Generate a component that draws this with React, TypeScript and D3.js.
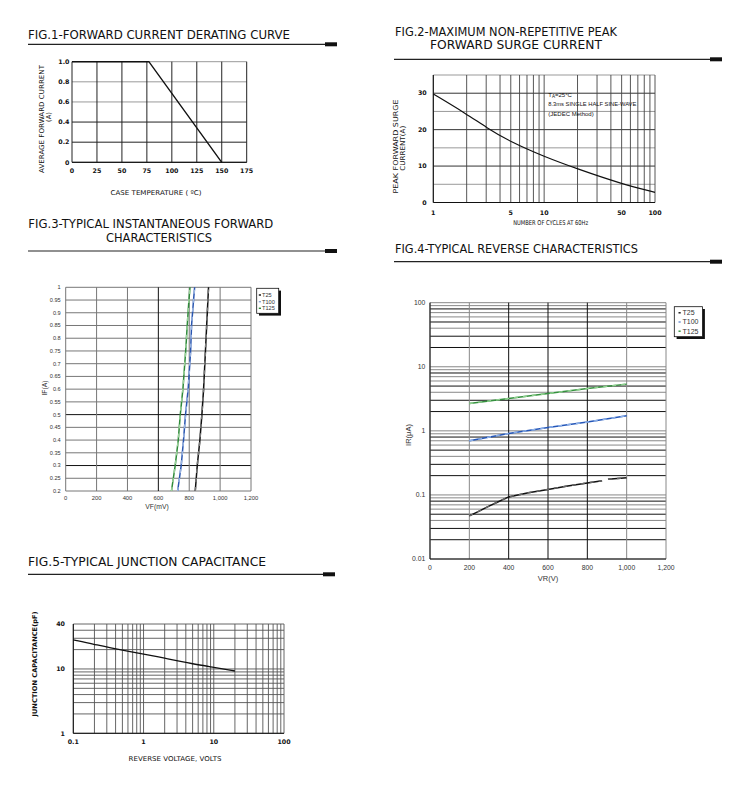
import React from 'react';
import * as d3 from 'd3';

// ---------- titles ----------
const fig1Title = ['FIG.1-FORWARD CURRENT DERATING CURVE'];
const fig2Title = ['FIG.2-MAXIMUM NON-REPETITIVE PEAK', 'FORWARD SURGE CURRENT'];
const fig3Title = ['FIG.3-TYPICAL INSTANTANEOUS FORWARD', 'CHARACTERISTICS'];
const fig4Title = ['FIG.4-TYPICAL REVERSE CHARACTERISTICS'];
const fig5Title = ['FIG.5-TYPICAL JUNCTION CAPACITANCE'];

// ---------- fig 1 ----------
const fig1Temps = [0, 77, 150];
const fig1Current = [1.0, 1.0, 0];
const fig1XTicks = [0, 25, 50, 75, 100, 125, 150, 175];
const fig1YTicks = [0, 0.2, 0.4, 0.6, 0.8, 1.0];
const fig1YLabels = ['0', '0.2', '0.4', '0.6', '0.8', '1.0'];

// ---------- fig 2 ----------
const fig2Cycles = [1, 2, 3, 5, 10, 20, 50, 100];
const fig2Surge = [29.8, 24.3, 20.6, 16.6, 12.6, 9.2, 5.1, 2.8];
const fig2XTicks = [1, 5, 10, 50, 100];
const fig2YTicks = [0, 10, 20, 30];
const fig2YGrid = [5, 10, 15, 20, 25, 30, 35];
const fig2Notes = ['=25°C', '8.3ms SINGLE HALF SINE-WAVE', '(JEDEC Method)'];

// ---------- fig 3 ----------
const fig3IF = [0.2, 0.3, 0.4, 0.5, 0.6, 0.75, 0.85, 0.95, 1.0];
const fig3T25 = [839, 852, 869, 882, 893, 905, 913, 921, 925];
const fig3T100 = [725, 748, 763, 776, 793, 809, 815, 828, 835];
const fig3T125 = [685, 709, 729, 742, 759, 777, 787, 798, 805];
const fig3XTicks = [0, 200, 400, 600, 800, 1000, 1200];
const fig3YTicks = [0.2, 0.25, 0.3, 0.35, 0.4, 0.45, 0.5, 0.55, 0.6, 0.65, 0.7, 0.75, 0.8, 0.85, 0.9, 0.95, 1];
const fig3YLabels = ['0.2', '0.25', '0.3', '0.35', '0.4', '0.45', '0.5', '0.55', '0.6', '0.65', '0.7', '0.75', '0.8', '0.85', '0.9', '0.95', '1'];
const legendNames = ['T25', 'T100', 'T125'];

// ---------- fig 4 ----------
const fig4VR25 = [200, 250, 300, 350, 400, 500, 600, 700, 800, 875, 890, 905, 1000];
const fig4IR25 = [0.047, 0.056, 0.067, 0.079, 0.093, 0.108, 0.122, 0.138, 0.154, 0.167, NaN, 0.175, 0.186];
const fig4VR = [200, 400, 600, 800, 1000];
const fig4IR100 = [0.70, 0.91, 1.13, 1.37, 1.72];
const fig4IR125 = [2.67, 3.2, 3.83, 4.57, 5.36];
const fig4XTicks = [0, 200, 400, 600, 800, 1000, 1200];
const fig4YTicks = [0.01, 0.1, 1, 10, 100];
const fig4YLabels = ['0.01', '0.1', '1', '10', '100'];

// ---------- fig 5 ----------
const fig5Volt = [0.1, 0.2, 0.3, 1, 2, 5, 10, 20];
const fig5Cap = [28.3, 24.2, 21.7, 17.1, 14.7, 12.0, 10.6, 9.3];
const fig5XTicks = [0.1, 1, 10, 100];
const fig5XLabels = ['0.1', '1', '10', '100'];
const fig5YTicks = [1, 10, 50];
const fig5YLabels = ['1', '10', '40'];

const F1 = "'DejaVu Sans', sans-serif";
const F2 = "'Liberation Sans', Arial, sans-serif";

function logGrid(lo: number, hi: number): number[] {
  const out: number[] = [];
  const d0 = Math.floor(Math.log10(lo));
  const d1 = Math.ceil(Math.log10(hi));
  for (let d = d0; d <= d1; d++) {
    for (let k = 1; k <= 9; k++) {
      const v = +(k * Math.pow(10, d)).toPrecision(3);
      if (v >= lo * 0.999 && v <= hi * 1.001) out.push(v);
    }
  }
  return out;
}

type TitleLine = { text: string; x: number; y: number; len: number };

function Header({ lines, ruleY, x1, x2 }: { lines: TitleLine[]; ruleY: number; x1: number; x2: number }) {
  return (
    <g>
      {lines.map((l, i) => (
        <text key={i} x={l.x} y={l.y} fontFamily={F1} fontSize={11.6} fill="#111"
          textLength={l.len} lengthAdjust="spacingAndGlyphs">{l.text}</text>
      ))}
      <line x1={x1} x2={x2} y1={ruleY} y2={ruleY} stroke="#222" strokeWidth={1.2} />
      <rect x={x2 - 12} y={ruleY - 2} width={12} height={4} fill="#111" />
    </g>
  );
}

function Fig1() {
  const x = d3.scaleLinear().domain([0, 175]).range([72, 246.7]);
  const y = d3.scaleLinear().domain([0, 1]).range([162.3, 61.7]);
  const pts = fig1Temps.map((t, i) => [x(t), y(fig1Current[i])] as [number, number]);
  const path = d3.line()(pts) || '';
  return (
    <g>
      <Header lines={[{ text: fig1Title[0], x: 28, y: 38.5, len: 262 }]} ruleY={44.3} x1={28} x2={337} />
      {fig1YTicks.map((v) => (
        <line key={'h' + v} x1={x(0)} x2={x(175)} y1={y(v)} y2={y(v)} stroke={v >= 0.6 ? '#999' : '#222'} strokeWidth={1} />
      ))}
      {fig1XTicks.map((v) => (
        <line key={'v' + v} x1={x(v)} x2={x(v)} y1={y(0)} y2={y(1)} stroke="#222" strokeWidth={1} />
      ))}
      <line x1={x(0)} x2={x(175)} y1={y(0)} y2={y(0)} stroke="#111" strokeWidth={1} />
      <path d={path} fill="none" stroke="#111" strokeWidth={1.4} />
      {fig1YTicks.map((v, i) => (
        <text key={'yl' + v} x={69.5} y={y(v)} dy="0.35em" textAnchor="end" fontFamily={F1} fontWeight="bold" fontSize={6.3} fill="#111">{fig1YLabels[i]}</text>
      ))}
      {fig1XTicks.map((v) => (
        <text key={'xl' + v} x={x(v)} y={170.7} dy="0.35em" textAnchor="middle" fontFamily={F1} fontWeight="bold" fontSize={6.3} fill="#111">{v}</text>
      ))}
      <text transform="translate(41.7,119) rotate(-90)" textAnchor="middle" dominantBaseline="central" fontFamily={F1} fontSize={6.8} fill="#111" textLength={108} lengthAdjust="spacingAndGlyphs">AVERAGE FORWARD CURRENT</text>
      <text transform="translate(49.3,117) rotate(-90)" textAnchor="middle" dominantBaseline="central" fontFamily={F1} fontSize={6.8} fill="#111">(A)</text>
      <text x={156} y={192.3} dy="0.35em" textAnchor="middle" fontFamily={F1} fontSize={6.6} fill="#111" textLength={91} lengthAdjust="spacingAndGlyphs">CASE  TEMPERATURE ( ºC)</text>
    </g>
  );
}

function Fig2() {
  const x = d3.scaleLog().domain([1, 100]).range([433.3, 655]);
  const y = d3.scaleLinear().domain([0, 35]).range([202.5, 75]);
  const vgrid = logGrid(1, 100);
  const line = d3.line<number>().x((d, i) => x(fig2Cycles[i])).y((d) => y(d)).curve(d3.curveBasis);
  return (
    <g>
      <Header lines={[{ text: fig2Title[0], x: 395, y: 35.7, len: 222 }, { text: fig2Title[1], x: 430, y: 49, len: 172 }]} ruleY={59.3} x1={394} x2={722} />
      {fig2YGrid.map((v) => (
        <line key={'h' + v} x1={x(1)} x2={x(100)} y1={y(v)} y2={y(v)} stroke={v % 10 === 0 ? '#333' : '#999'} strokeWidth={1} />
      ))}
      {vgrid.map((v) => (
        <line key={'v' + v} x1={x(v)} x2={x(v)} y1={y(0)} y2={y(35)} stroke="#444" strokeWidth={0.9} />
      ))}
      <line x1={x(1)} x2={x(100)} y1={y(0)} y2={y(0)} stroke="#111" strokeWidth={1} />
      <line x1={x(1)} x2={x(1)} y1={y(0)} y2={y(35)} stroke="#111" strokeWidth={1} />
      <path d={line(fig2Surge) || ''} fill="none" stroke="#111" strokeWidth={1.2} />
      {fig2YTicks.map((v) => (
        <text key={'yl' + v} x={426.7} y={y(v)} dy="0.35em" textAnchor="end" fontFamily={F1} fontWeight="bold" fontSize={6.3} fill="#111">{v}</text>
      ))}
      {fig2XTicks.map((v) => (
        <text key={'xl' + v} x={x(v)} y={212.7} dy="0.35em" textAnchor="middle" fontFamily={F1} fontWeight="bold" fontSize={6.3} fill="#111">{v}</text>
      ))}
      <text x={548.3} y={95} dy="0.35em" fontFamily={F2} fontSize={6} fill="#111">
        <tspan>T</tspan><tspan fontSize={4.5} dy={1}>A</tspan><tspan dy={-1}>{fig2Notes[0]}</tspan>
      </text>
      <text x={548.3} y={104} dy="0.35em" fontFamily={F2} fontSize={6} fill="#111" textLength={88} lengthAdjust="spacingAndGlyphs">{fig2Notes[1]}</text>
      <text x={548.3} y={114} dy="0.35em" fontFamily={F2} fontSize={6} fill="#111">{fig2Notes[2]}</text>
      <text transform="translate(396,146.5) rotate(-90)" textAnchor="middle" dominantBaseline="central" fontFamily={F1} fontSize={6.8} fill="#111" textLength={94} lengthAdjust="spacingAndGlyphs">PEAK FORWARD SURGE</text>
      <text transform="translate(402.7,148.3) rotate(-90)" textAnchor="middle" dominantBaseline="central" fontFamily={F1} fontSize={6.8} fill="#111" textLength={45} lengthAdjust="spacingAndGlyphs">CURRENT(A)</text>
      <text x={550.7} y={222.7} dy="0.35em" textAnchor="middle" fontFamily={F1} fontSize={6.6} fill="#111" textLength={75} lengthAdjust="spacingAndGlyphs">NUMBER OF CYCLES AT 60Hz</text>
    </g>
  );
}

function DashedSeries({ d, dark, light, width }: { d: string; dark: string; light: string; width: number }) {
  return (
    <g>
      <path d={d} fill="none" stroke={dark} strokeWidth={width} />
      <path d={d} fill="none" stroke={light} strokeWidth={width} strokeDasharray="4,5" />
    </g>
  );
}

function Legend({ x0, y0, w, h, ys, tx, mx, fs, colors }: { x0: number; y0: number; w: number; h: number; ys: number[]; tx: number; mx: number; fs: number; colors: string[] }) {
  return (
    <g>
      <rect x={x0 + 2.3} y={y0 + 2.3} width={w} height={h} fill="#111" />
      <rect x={x0} y={y0} width={w} height={h} fill="#fff" stroke="#111" strokeWidth={0.8} />
      {legendNames.map((n, i) => (
        <g key={n}>
          <rect x={mx} y={ys[i] - 0.7} width={2.2} height={1.4} fill={colors[i]} />
          <text x={tx} y={ys[i]} dy="0.35em" fontFamily={F2} fontSize={fs} fill="#333">{n}</text>
        </g>
      ))}
    </g>
  );
}

function Fig3() {
  const x = d3.scaleLinear().domain([0, 1200]).range([65.7, 251]);
  const y = d3.scaleLinear().domain([0.2, 1]).range([491, 287.3]);
  const mk = (vals: number[]) => d3.line<number>().x((d) => x(d)).y((d, i) => y(fig3IF[i]))(vals) || '';
  return (
    <g>
      <Header lines={[{ text: fig3Title[0], x: 28.3, y: 228.3, len: 245 }, { text: fig3Title[1], x: 106, y: 241.7, len: 106 }]} ruleY={251} x1={28} x2={337} />
      {fig3YTicks.map((v) => (
        <line key={'h' + v} x1={x(0)} x2={x(1200)} y1={y(v)} y2={y(v)} stroke={v === 0.5 || v === 0.3 ? '#111' : '#777'} strokeWidth={1} />
      ))}
      {fig3XTicks.map((v) => (
        <line key={'v' + v} x1={x(v)} x2={x(v)} y1={y(0.2)} y2={y(1)} stroke={v === 600 ? '#111' : '#777'} strokeWidth={1} />
      ))}
      <DashedSeries d={mk(fig3T25)} dark="#111" light="#777" width={1.5} />
      <DashedSeries d={mk(fig3T100)} dark="#2a56b0" light="#9ab4e0" width={1.5} />
      <DashedSeries d={mk(fig3T125)} dark="#2f8a3a" light="#9ad09a" width={1.5} />
      {fig3YTicks.map((v, i) => (
        <text key={'yl' + v} x={60.7} y={y(v)} dy="0.35em" textAnchor="end" fontFamily={F2} fontSize={5.6} fill="#333">{fig3YLabels[i]}</text>
      ))}
      {fig3XTicks.map((v) => (
        <text key={'xl' + v} x={x(v)} y={497.7} dy="0.35em" textAnchor="middle" fontFamily={F2} fontSize={5.8} fill="#333">{d3.format(',')(v)}</text>
      ))}
      <text x={157} y={506.7} dy="0.35em" textAnchor="middle" fontFamily={F2} fontSize={6.8} fill="#333">VF(mV)</text>
      <text transform="translate(44,388) rotate(-90)" textAnchor="middle" dominantBaseline="central" fontFamily={F2} fontSize={6.8} fill="#333">IF(A)</text>
      <Legend x0={256.7} y0={288.3} w={22} h={25} ys={[295, 301.7, 308.3]} tx={262} mx={258.8} fs={5.6} colors={['#111', '#8aa8d8', '#2f8a3a']} />
    </g>
  );
}

function Fig4() {
  const x = d3.scaleLinear().domain([0, 1200]).range([430, 666]);
  const y = d3.scaleLog().domain([0.01, 100]).range([559, 302.7]);
  const hgrid = logGrid(0.01, 100);
  const darkMinor = [2, 3, 5, 8];
  const lineT25 = d3.line<number>().defined((d) => !isNaN(d)).x((d, i) => x(fig4VR25[i])).y((d) => y(d))(fig4IR25) || '';
  const mk = (vals: number[]) => d3.line<number>().x((d, i) => x(fig4VR[i])).y((d) => y(d))(vals) || '';
  return (
    <g>
      <Header lines={[{ text: fig4Title[0], x: 395, y: 253.3, len: 243 }]} ruleY={261.7} x1={394} x2={722} />
      {hgrid.map((v) => {
        const lead = +(v / Math.pow(10, Math.floor(Math.log10(v) + 1e-9))).toPrecision(2);
        const dark = darkMinor.includes(lead);
        return <line key={'h' + v} x1={x(0)} x2={x(1200)} y1={y(v)} y2={y(v)} stroke={dark ? '#111' : '#888'} strokeWidth={1} />;
      })}
      {fig4XTicks.map((v) => (
        <line key={'v' + v} x1={x(v)} x2={x(v)} y1={y(0.01)} y2={y(100)} stroke={v >= 400 && v <= 800 ? '#111' : '#888'} strokeWidth={1} />
      ))}
      <line x1={x(0)} x2={x(1200)} y1={y(0.01)} y2={y(0.01)} stroke="#111" strokeWidth={1} />
      <line x1={x(0)} x2={x(0)} y1={y(0.01)} y2={y(100)} stroke="#111" strokeWidth={1} />
      <DashedSeries d={mk(fig4IR125)} dark="#35913f" light="#8fd08f" width={1.5} />
      <DashedSeries d={mk(fig4IR100)} dark="#2456b8" light="#8cb0e8" width={1.5} />
      <DashedSeries d={lineT25} dark="#111" light="#666" width={1.5} />
      {fig4YTicks.map((v, i) => (
        <text key={'yl' + v} x={425.3} y={y(v)} dy="0.35em" textAnchor="end" fontFamily={F2} fontSize={6.8} fill="#333">{fig4YLabels[i]}</text>
      ))}
      {fig4XTicks.map((v) => (
        <text key={'xl' + v} x={x(v)} y={567.7} dy="0.35em" textAnchor="middle" fontFamily={F2} fontSize={6.8} fill="#333">{d3.format(',')(v)}</text>
      ))}
      <text x={548} y={578} dy="0.35em" textAnchor="middle" fontFamily={F2} fontSize={7.5} fill="#333">VR(V)</text>
      <text transform="translate(408,435) rotate(-90)" textAnchor="middle" dominantBaseline="central" fontFamily={F2} fontSize={7.5} fill="#333">IR(μA)</text>
      <Legend x0={674.3} y0={306.7} w={28.3} h={30} ys={[312.8, 322, 331.2]} tx={682.5} mx={678.5} fs={7} colors={['#111', '#6d8fd0', '#35913f']} />
    </g>
  );
}

function Fig5() {
  const x = d3.scaleLog().domain([0.1, 100]).range([73.3, 284]);
  const y = d3.scaleLog().domain([1, 50]).range([733.3, 624]);
  const vgrid = logGrid(0.1, 100);
  const hgrid = logGrid(1, 50);
  const line = d3.line<number>().x((d, i) => x(fig5Volt[i])).y((d) => y(d)).curve(d3.curveBasis);
  return (
    <g>
      <Header lines={[{ text: fig5Title[0], x: 28, y: 565.7, len: 238 }]} ruleY={574.3} x1={28} x2={335} />
      {hgrid.map((v) => (
        <line key={'h' + v} x1={x(0.1)} x2={x(100)} y1={y(v)} y2={y(v)} stroke="#555" strokeWidth={0.9} />
      ))}
      {vgrid.map((v) => (
        <line key={'v' + v} x1={x(v)} x2={x(v)} y1={y(1)} y2={y(50)} stroke="#555" strokeWidth={0.9} />
      ))}
      <line x1={x(0.1)} x2={x(100)} y1={y(1)} y2={y(1)} stroke="#111" strokeWidth={1} />
      <line x1={x(0.1)} x2={x(0.1)} y1={y(1)} y2={y(50)} stroke="#111" strokeWidth={1} />
      <path d={line(fig5Cap) || ''} fill="none" stroke="#111" strokeWidth={1.3} />
      {fig5YTicks.map((v, i) => (
        <text key={'yl' + v} x={65} y={y(v)} dy="0.35em" textAnchor="end" fontFamily={F1} fontWeight="bold" fontSize={6.3} fill="#111">{fig5YLabels[i]}</text>
      ))}
      {fig5XTicks.map((v, i) => (
        <text key={'xl' + v} x={x(v)} y={741.7} dy="0.35em" textAnchor="middle" fontFamily={F1} fontWeight="bold" fontSize={6.3} fill="#111">{fig5XLabels[i]}</text>
      ))}
      <text transform="translate(35,664) rotate(-90)" textAnchor="middle" dominantBaseline="central" fontFamily={F1} fontWeight="bold" fontSize={6.5} fill="#111" textLength={105} lengthAdjust="spacingAndGlyphs">JUNCTION CAPACITANCE(pF)</text>
      <text x={175} y={758.3} dy="0.35em" textAnchor="middle" fontFamily={F1} fontSize={6.6} fill="#111" textLength={93} lengthAdjust="spacingAndGlyphs">REVERSE VOLTAGE, VOLTS</text>
    </g>
  );
}

export default function App() {
  return (
    <svg width={750} height={800} viewBox="0 0 750 800" style={{ position: 'absolute', left: 0, top: 0, background: '#fff' }}>
      <rect x={0} y={0} width={750} height={800} fill="#fff" />
      <Fig1 />
      <Fig2 />
      <Fig3 />
      <Fig4 />
      <Fig5 />
    </svg>
  );
}
